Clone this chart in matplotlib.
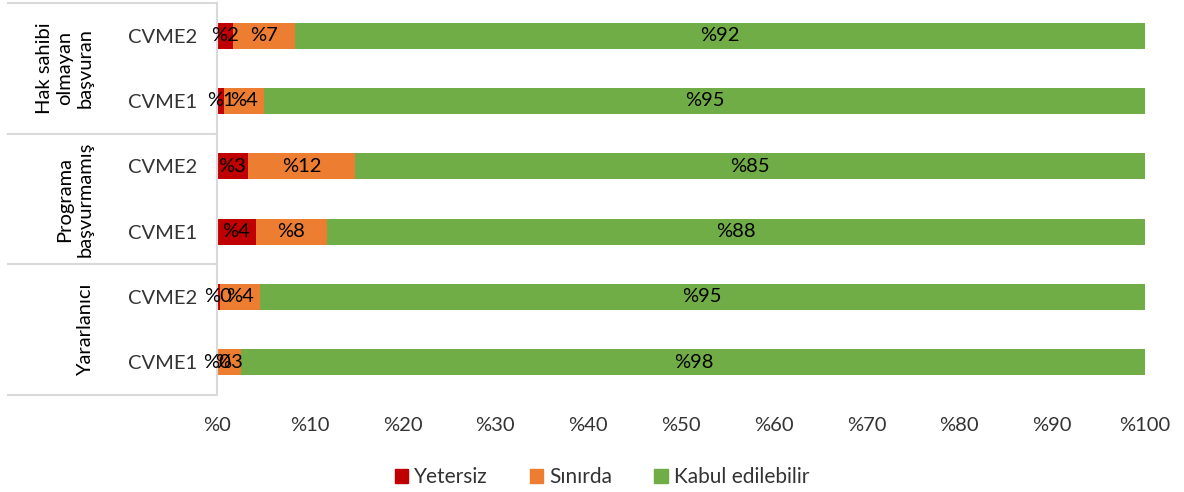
import matplotlib
matplotlib.use("Agg")
import matplotlib.pyplot as plt
from matplotlib.transforms import blended_transform_factory
from matplotlib.patches import Patch

plt.rcParams['font.family'] = ['Lato', 'DejaVu Sans']

# bottom to top
bar_labels = ["CVME1", "CVME2", "CVME1", "CVME2", "CVME1", "CVME2"]
groups = ["Yararlanıcı", "Programa\nbaşvurmamış", "Hak sahibi\nolmayan\nbaşvuran"]
series_names = ["Yetersiz", "Sınırda", "Kabul edilebilir"]
yetersiz = [0.1, 0.3, 4.2, 3.3, 0.8, 1.7]
sinirda = [2.5, 4.3, 7.6, 11.6, 4.3, 6.7]
kabul = [97.5, 95.4, 88.2, 85.1, 94.9, 91.6]
colors = ["#C00000", "#ED7D31", "#70AD47"]
xticks = list(range(0, 101, 10))

fig = plt.figure(figsize=(11.84, 4.92), dpi=100)
ax = fig.add_axes([217/1184, 1-395/492, (1145-217)/1184, (395-3)/492])

fs = 14.5
y = list(range(len(bar_labels)))
left = [0.0] * len(y)
for vals, col in zip([yetersiz, sinirda, kabul], colors):
    ax.barh(y, vals, left=left, height=0.4, color=col)
    for yi, v, l in zip(y, vals, left):
        ax.text(l + v/2, yi, "%" + str(int(v + 0.5)), ha='center', va='center',
                fontsize=fs, color='black')
    left = [a + b for a, b in zip(left, vals)]

ax.set_xlim(0, 100)
ax.set_ylim(-0.5, 5.5)
ax.set_xticks(xticks)
ax.set_xticklabels(["%" + str(t) for t in xticks], fontsize=fs, color='#333333')
ax.tick_params(axis='x', length=0, pad=16)
ax.set_yticks(y)
ax.set_yticklabels(bar_labels, fontsize=fs, color='#333333')
ax.tick_params(axis='y', length=0, pad=14)
for s in ['top', 'right', 'bottom']:
    ax.spines[s].set_visible(False)
ax.spines['left'].set_color('#d9d9d9')
ax.spines['left'].set_linewidth(1.5)

tr = blended_transform_factory(ax.transAxes, ax.transData)
x0 = (8 - 217) / 928
for yl in [-0.5, 1.5, 3.5, 5.5]:
    ax.plot([x0, 0], [yl, yl], transform=tr, color='#d9d9d9', lw=1.5, clip_on=False)

gx = (94 - 217) / 928
for gi, g in enumerate(groups):
    ax.text(gx, 2*gi + 0.5, g, transform=tr, rotation=90, ha='right', va='center',
            fontsize=fs, color='black', linespacing=1.25, multialignment='center')

handles = [Patch(color=c) for c in colors]
fig.legend(handles, series_names, loc='center', bbox_to_anchor=(602/1184, 1-477/492),
           ncol=3, frameon=False, fontsize=fs + 0.5, handlelength=0.65, handleheight=0.65,
           handletextpad=0.3, columnspacing=2.0, labelcolor='#333333')

fig.savefig("out.png", dpi=100)
